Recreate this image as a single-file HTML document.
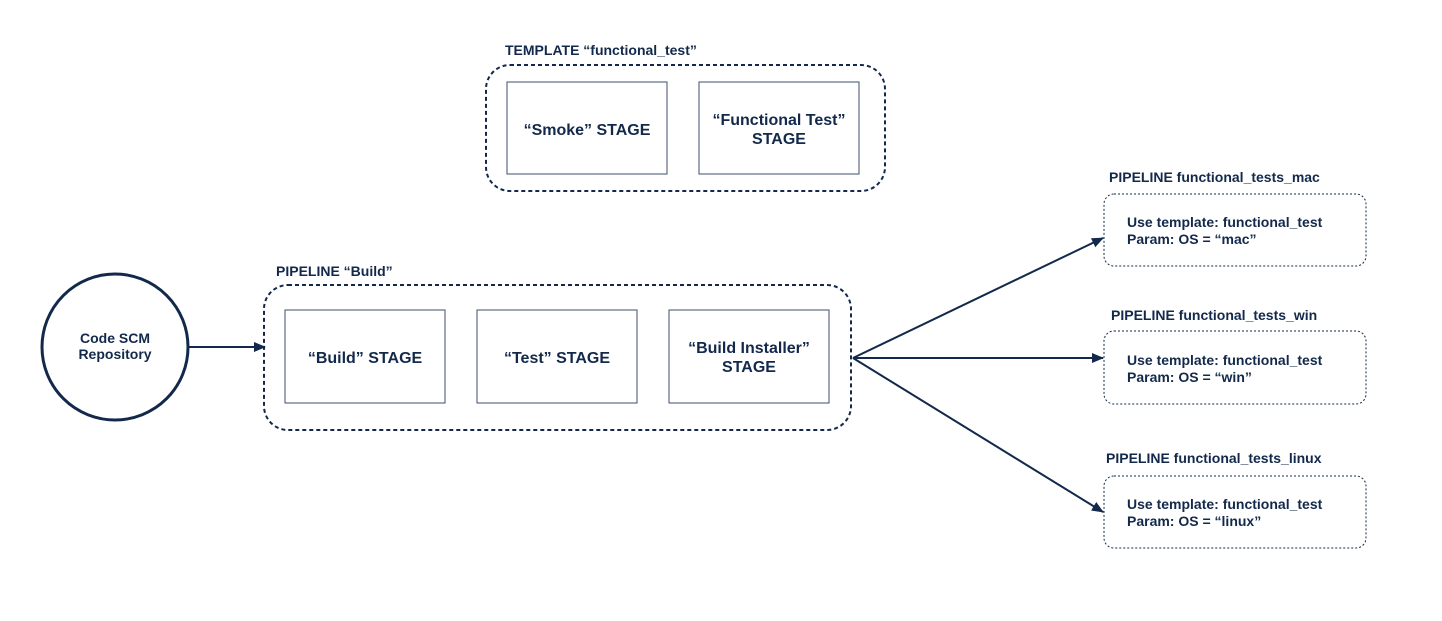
<!DOCTYPE html>
<html><head><meta charset="utf-8"><style>
html,body{margin:0;padding:0;background:#fff;}
svg text{font-family:"Liberation Sans",Arial,sans-serif;font-weight:bold;fill:#13294b;}
</style></head><body>
<svg width="1442" height="616" viewBox="0 0 1442 616" xmlns="http://www.w3.org/2000/svg">
<defs><marker id="a" markerWidth="12" markerHeight="10" refX="11" refY="5" orient="auto" markerUnits="userSpaceOnUse"><path d="M0,0 L12,5 L0,10 z" fill="#13294b"/></marker></defs>
<g stroke="#13294b" fill="none">
<rect x="486" y="65" width="399" height="126" rx="24" stroke-width="2" stroke-dasharray="4,3"/>
<rect x="507" y="82" width="160" height="92" stroke-width="1" stroke="#3d4f6b"/>
<rect x="699" y="82" width="160" height="92" stroke-width="1" stroke="#3d4f6b"/>
<rect x="264" y="285" width="587" height="145" rx="24" stroke-width="2" stroke-dasharray="4,3"/>
<rect x="285" y="310" width="160" height="93" stroke-width="1" stroke="#3d4f6b"/>
<rect x="477" y="310" width="160" height="93" stroke-width="1" stroke="#3d4f6b"/>
<rect x="669" y="310" width="160" height="93" stroke-width="1" stroke="#3d4f6b"/>
<circle cx="115" cy="347" r="73" stroke-width="3"/>
<line x1="189" y1="347" x2="265" y2="347" stroke-width="2" marker-end="url(#a)"/>
<rect x="1104" y="194" width="262" height="72" rx="10" stroke-width="1" stroke-dasharray="2,2"/>
<rect x="1104" y="331" width="262" height="73" rx="10" stroke-width="1" stroke-dasharray="2,2"/>
<rect x="1104" y="476" width="262" height="72" rx="10" stroke-width="1" stroke-dasharray="2,2"/>
<line x1="853" y1="358" x2="1103" y2="238" stroke-width="2" marker-end="url(#a)"/>
<line x1="853" y1="358" x2="1103" y2="358" stroke-width="2" marker-end="url(#a)"/>
<line x1="853" y1="358" x2="1103" y2="512" stroke-width="2" marker-end="url(#a)"/>
</g>
<text x="505" y="55" font-size="14">TEMPLATE “functional_test”</text>
<text x="587" y="135" font-size="16" text-anchor="middle">“Smoke” STAGE</text>
<text x="779" y="125" font-size="16" text-anchor="middle">“Functional Test”</text>
<text x="779" y="144" font-size="16" text-anchor="middle">STAGE</text>
<text x="276" y="276" font-size="14">PIPELINE “Build”</text>
<text x="365" y="363" font-size="16" text-anchor="middle">“Build” STAGE</text>
<text x="557" y="363" font-size="16" text-anchor="middle">“Test” STAGE</text>
<text x="749" y="353" font-size="16" text-anchor="middle">“Build Installer”</text>
<text x="749" y="372" font-size="16" text-anchor="middle">STAGE</text>
<text x="115" y="343" font-size="14" text-anchor="middle">Code SCM</text>
<text x="115" y="359" font-size="14" text-anchor="middle">Repository</text>
<text x="1109" y="182" font-size="14">PIPELINE functional_tests_mac</text>
<text x="1127" y="227" font-size="14">Use template: functional_test</text>
<text x="1127" y="244" font-size="14">Param: OS = “mac”</text>
<text x="1111" y="320" font-size="14">PIPELINE functional_tests_win</text>
<text x="1127" y="365" font-size="14">Use template: functional_test</text>
<text x="1127" y="382" font-size="14">Param: OS = “win”</text>
<text x="1106" y="463" font-size="14">PIPELINE functional_tests_linux</text>
<text x="1127" y="509" font-size="14">Use template: functional_test</text>
<text x="1127" y="526" font-size="14">Param: OS = “linux”</text>
</svg>
</body></html>
